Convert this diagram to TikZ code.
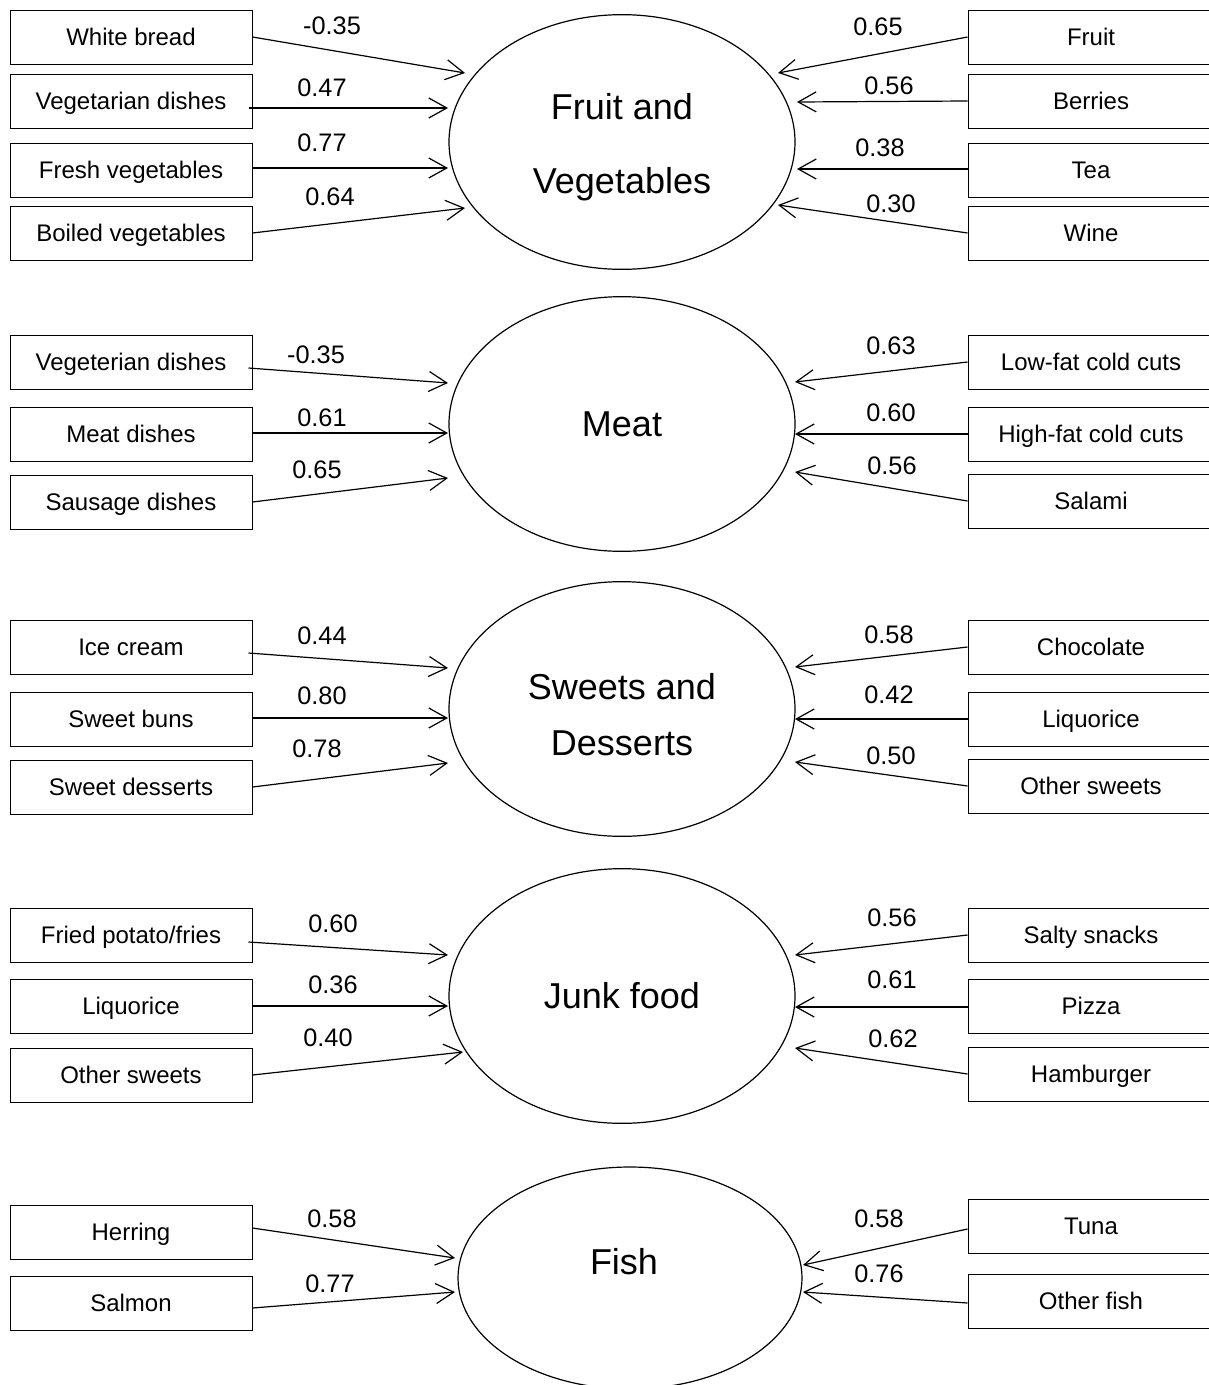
\documentclass[tikz,border=0pt]{standalone}
\usepackage{fontspec}
\setmainfont{Liberation Sans}
\usetikzlibrary{arrows.meta,calc,shapes.geometric}
\begin{document}
\begin{tikzpicture}[x=0.75pt,y=-0.75pt,
  lbox/.style={draw, line width=0.75pt, rectangle, inner sep=0pt,
    minimum width=181.5pt, minimum height=40.5pt,
    font=\fontsize{18}{21}\selectfont, text height=13pt, text depth=0pt},
  rbox/.style={lbox, minimum width=184.5pt},
  lat/.style={draw, ellipse, line width=0.9pt, inner sep=0pt,
    minimum width=259.5pt, minimum height=191pt,
    font=\fontsize{27}{32}\selectfont, align=center},
  lattext/.style={font=\fontsize{27}{32}\selectfont, inner sep=0pt, align=center},
  num/.style={font=\fontsize{19}{22}\selectfont, inner sep=0pt, text height=13.6pt, text depth=0pt},
  arr/.style={line width=0.9pt, -{Straight Barb[length=13.5pt,width=15pt]}}
]
\useasboundingbox (0,0) rectangle (1209,1385);
\clip (0,0) rectangle (1209,1385);

% ---------- Fruit and Vegetables ----------
\node[lat, label={[lattext, yshift=-3.75pt]center:{Fruit and\\[23.5pt]Vegetables}}] (fveg) at (622,142) {};
\node[lbox] (wb) at (131,37) {White bread};
\node[lbox] (vd) at (131,101) {Vegetarian dishes};
\node[lbox] (fv) at (131,170) {Fresh vegetables};
\node[lbox] (bv) at (131,233) {Boiled vegetables};
\node[rbox] (fr) at (1091,37) {Fruit};
\node[rbox] (be) at (1091,101) {Berries};
\node[rbox] (te) at (1091,170) {Tea};
\node[rbox] (wi) at (1091,233) {Wine};
\coordinate (a1) at (465,73);
\coordinate (a2) at (448,108);
\coordinate (a3) at (448,168);
\coordinate (a4) at (465,208);
\coordinate (b1) at (778,73);
\coordinate (b2) at (797,102);
\coordinate (b3) at (797,169);
\coordinate (b4) at (778,205);
\draw[arr] (wb.east) -- (a1) node[num] at (332,25) {-0.35};
\draw[arr] ($(vd.east)+(-4,7)$) -- (a2) node[num] at (322,87) {0.47};
\draw[arr] ($(fv.east)+(0,-2)$) -- (a3) node[num] at (322,142) {0.77};
\draw[arr] (bv.east) -- (a4) node[num] at (330,196) {0.64};
\draw[arr] (fr.west) -- (b1) node[num] at (878,26) {0.65};
\draw[arr] (be.west) -- (b2) node[num] at (889,85) {0.56};
\draw[arr] ($(te.west)+(0,-1)$) -- (b3) node[num] at (880,147) {0.38};
\draw[arr] (wi.west) -- (b4) node[num] at (891,203) {0.30};

% ---------- Meat ----------
\node[lat] (meat) at (622,424) {Meat};
\node[lbox] (vd2) at (131,362) {Vegeterian dishes};
\node[lbox] (md) at (131,434) {Meat dishes};
\node[lbox] (sd) at (131,502) {Sausage dishes};
\node[rbox] (lf) at (1091,362) {Low-fat cold cuts};
\node[rbox] (hf) at (1091,434) {High-fat cold cuts};
\node[rbox] (sa) at (1091,501) {Salami};
\coordinate (c1) at (448,383);
\coordinate (c2) at (448,433);
\coordinate (c3) at (448,478);
\coordinate (d1) at (795,382);
\coordinate (d2) at (795,434);
\coordinate (d3) at (795,472);
\draw[arr] ($(vd2.east)+(-4,6)$) -- (c1) node[num] at (316,354) {-0.35};
\draw[arr] ($(md.east)+(0,-1)$) -- (c2) node[num] at (322,417) {0.61};
\draw[arr] (sd.east) -- (c3) node[num] at (317,469) {0.65};
\draw[arr] (lf.west) -- (d1) node[num] at (891,345) {0.63};
\draw[arr] (hf.west) -- (d2) node[num] at (891,412) {0.60};
\draw[arr] (sa.west) -- (d3) node[num] at (892,465) {0.56};

% ---------- Sweets and Desserts ----------
\node[lat, label={[lattext, yshift=-4.5pt]center:{Sweets and\\[10pt]Desserts}}] (sweet) at (622,709) {};
\node[lbox] (ic) at (131,647) {Ice cream};
\node[lbox] (sb) at (131,719) {Sweet buns};
\node[lbox] (sds) at (131,787) {Sweet desserts};
\node[rbox] (ch) at (1091,647) {Chocolate};
\node[rbox] (li) at (1091,719) {Liquorice};
\node[rbox] (os) at (1091,786) {Other sweets};
\coordinate (e1) at (448,668);
\coordinate (e2) at (448,718);
\coordinate (e3) at (448,763);
\coordinate (f1) at (795,667);
\coordinate (f2) at (795,719);
\coordinate (f3) at (795,762);
\draw[arr] ($(ic.east)+(-4,6)$) -- (e1) node[num] at (322,635) {0.44};
\draw[arr] ($(sb.east)+(0,-1)$) -- (e2) node[num] at (322,695) {0.80};
\draw[arr] (sds.east) -- (e3) node[num] at (317,748) {0.78};
\draw[arr] (ch.west) -- (f1) node[num] at (889,634) {0.58};
\draw[arr] (li.west) -- (f2) node[num] at (889,694) {0.42};
\draw[arr] (os.west) -- (f3) node[num] at (891,755) {0.50};

% ---------- Junk food ----------
\node[lat] (junk) at (622,996) {Junk food};
\node[lbox] (fp) at (131,935) {Fried potato/fries};
\node[lbox] (li2) at (131,1006) {Liquorice};
\node[lbox] (os2) at (131,1075) {Other sweets};
\node[rbox] (ss) at (1091,935) {Salty snacks};
\node[rbox] (pz) at (1091,1006) {Pizza};
\node[rbox] (hb) at (1091,1074) {Hamburger};
\coordinate (g1) at (448,955);
\coordinate (g2) at (448,1006);
\coordinate (g3) at (463,1052);
\coordinate (h1) at (795,955);
\coordinate (h2) at (795,1007);
\coordinate (h3) at (795,1048);
\draw[arr] ($(fp.east)+(-4,7)$) -- (g1) node[num] at (333,923) {0.60};
\draw[arr] (li2.east) -- (g2) node[num] at (333,984) {0.36};
\draw[arr] (os2.east) -- (g3) node[num] at (328,1037) {0.40};
\draw[arr] (ss.west) -- (h1) node[num] at (892,917) {0.56};
\draw[arr] ($(pz.west)+(0,1)$) -- (h2) node[num] at (892,979) {0.61};
\draw[arr] (hb.west) -- (h3) node[num] at (893,1038) {0.62};

% ---------- Fish ----------
\node[lat, minimum width=258pt, minimum height=166.5pt,
  label={[lattext, xshift=-4.5pt, yshift=12pt]center:Fish}] (fish) at (630,1278) {};
\node[lbox] (he) at (131,1232) {Herring};
\node[lbox] (sl) at (131,1303) {Salmon};
\node[rbox] (tu) at (1091,1226) {Tuna};
\node[rbox] (of) at (1091,1301) {Other fish};
\coordinate (k1) at (455,1258);
\coordinate (k2) at (455,1292);
\coordinate (m1) at (803,1265);
\coordinate (m2) at (803,1292);
\draw[arr] ($(he.east)+(0,-4)$) -- (k1) node[num] at (332,1218) {0.58};
\draw[arr] ($(sl.east)+(0,5)$) -- (k2) node[num] at (330,1283) {0.77};
\draw[arr] ($(tu.west)+(0,3)$) -- (m1) node[num] at (879,1218) {0.58};
\draw[arr] ($(of.west)+(0,2)$) -- (m2) node[num] at (879,1273) {0.76};
\end{tikzpicture}
\end{document}
